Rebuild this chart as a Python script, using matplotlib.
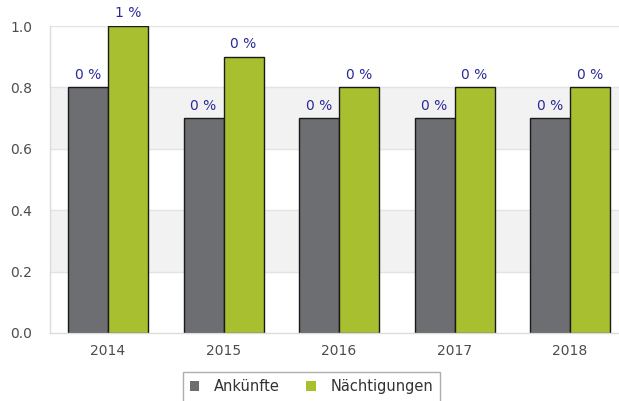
import matplotlib.pyplot as plt
import numpy as np

years = ['2014', '2015', '2016', '2017', '2018']
ankuenfte = [0.8, 0.7, 0.7, 0.7, 0.7]
naechtigungen = [1.0, 0.9, 0.8, 0.8, 0.8]
ankuenfte_labels = ['0 %', '0 %', '0 %', '0 %', '0 %']
naechtigungen_labels = ['1 %', '0 %', '0 %', '0 %', '0 %']
yticks = [0.0, 0.2, 0.4, 0.6, 0.8, 1.0]

GREY = '#6d6e71'
GREEN = '#a8bf2f'
LABEL = '#2a2a9a'
TICK = '#4d4d4d'

fig = plt.figure(figsize=(6.19, 4.01), dpi=100)
W, H = 619, 401
# plot area in pixels: left 50, top 26, bottom 333, group width 115.5
left_px, top_px, bot_px = 50.25, 26, 333
group = 115.5
right_px = W
ax = fig.add_axes([left_px / W, (H - bot_px) / H,
                   (right_px - left_px) / W, (bot_px - top_px) / H])

x = np.arange(len(years))
bw = 40 / group

# alternating bands and grid
for lo in [0.2, 0.6]:
    ax.axhspan(lo, lo + 0.2, color='#f2f2f2', zorder=0, lw=0)
for t in yticks[1:]:
    ax.axhline(t, color='#e3e3e3', lw=1, zorder=0.5)

b1 = ax.bar(x - bw / 2, ankuenfte, bw, color=GREY, edgecolor='#1a1a1a',
            lw=1, zorder=2, label='Ankünfte')
b2 = ax.bar(x + bw / 2, naechtigungen, bw, color=GREEN, edgecolor='#1a1a1a',
            lw=1, zorder=2, label='Nächtigungen')

for bars, labels in [(b1, ankuenfte_labels), (b2, naechtigungen_labels)]:
    for r, lab in zip(bars, labels):
        ax.annotate(lab, (r.get_x() + r.get_width() / 2, r.get_height()),
                    xytext=(0, 4), textcoords='offset points', ha='center',
                    va='bottom', color=LABEL, fontsize=10, clip_on=False)

ax.set_xlim(-0.5, -0.5 + (right_px - left_px) / group)
ax.set_ylim(0, 1.0)
ax.set_xticks(x)
ax.set_xticklabels(years)
ax.set_yticks(yticks)
ax.set_yticklabels([f'{t:.1f}' for t in yticks])
ax.tick_params(length=0, colors=TICK, labelsize=10)
ax.tick_params(axis='x', pad=8)
ax.tick_params(axis='y', pad=13)
for s in ['top', 'right']:
    ax.spines[s].set_visible(False)
for s in ['left', 'bottom']:
    ax.spines[s].set_color('#dcdcdc')
    ax.spines[s].set_linewidth(1)

leg = fig.legend(handles=[b1, b2], loc='upper center',
                 bbox_to_anchor=(311.5 / W, (H - 372) / H), ncol=2,
                 frameon=True, fancybox=False, fontsize=10.5, handlelength=0.65,
                 handleheight=0.65, columnspacing=1.8, handletextpad=1.0,
                 borderpad=0.5, borderaxespad=0)
leg.get_frame().set_edgecolor('#999999')
leg.get_frame().set_linewidth(1)
for h in leg.legend_handles:
    h.set_edgecolor('none')
for t in leg.get_texts():
    t.set_color('#333333')

fig.savefig('out.png', dpi=100)
